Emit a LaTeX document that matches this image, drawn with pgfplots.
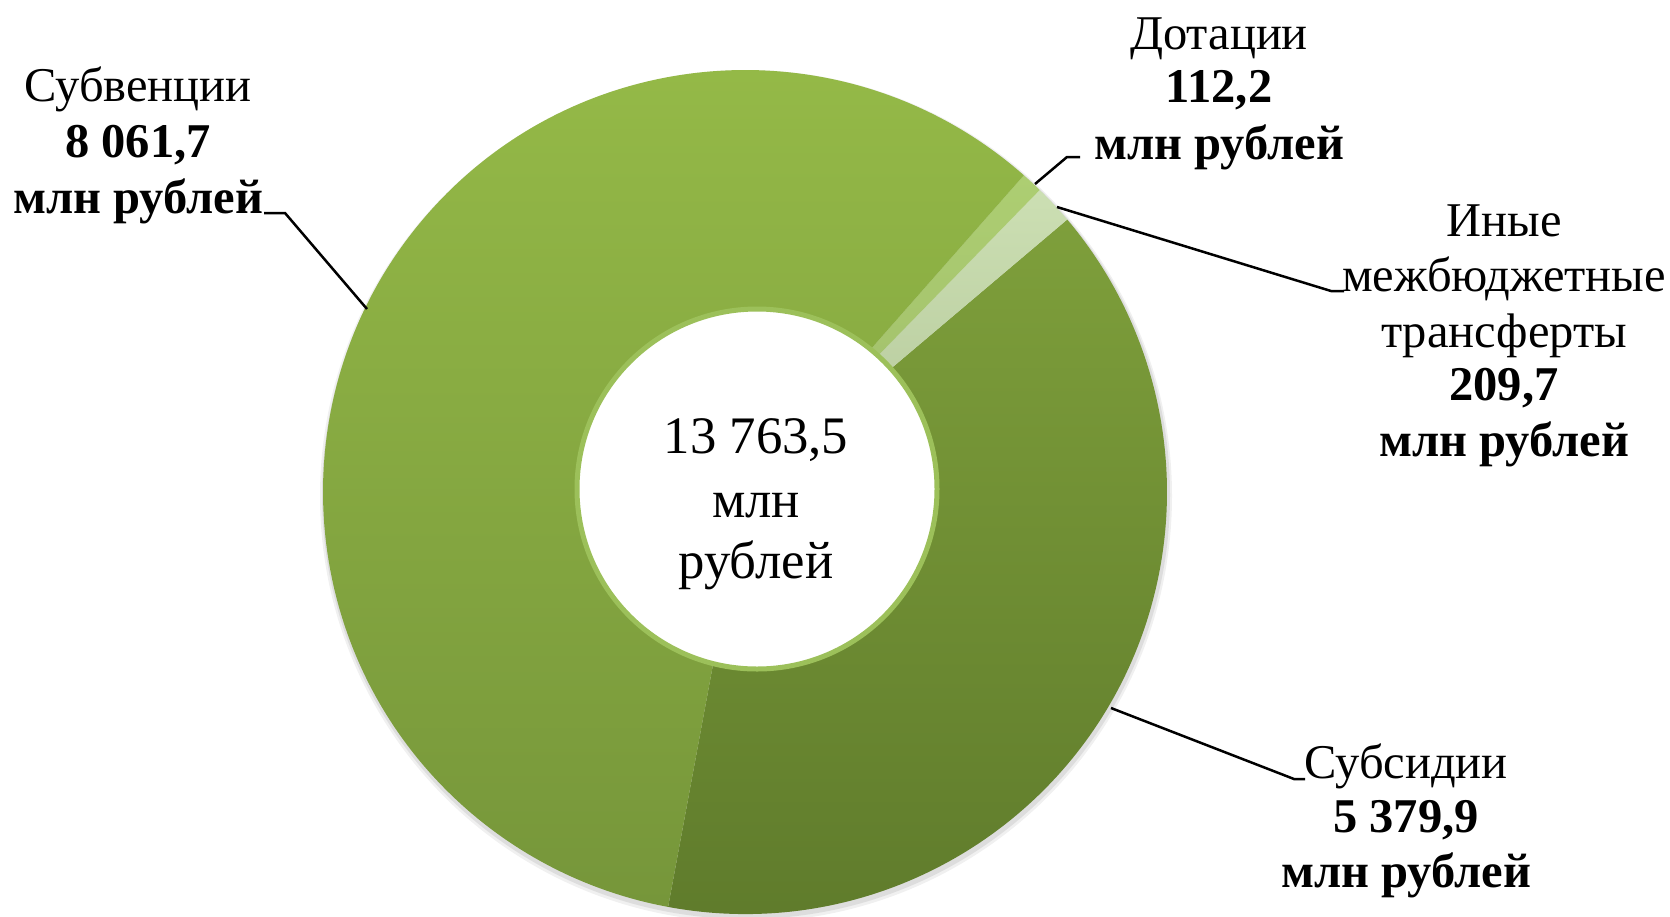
\documentclass[border=0pt]{standalone}
\usepackage{fontspec}
\setmainfont{Liberation Serif}
\usepackage{pgfplots}
\pgfplotsset{compat=1.18}
\definecolor{subvTop}{HTML}{96BB48}
\definecolor{subvBot}{HTML}{76963A}
\definecolor{subsTop}{HTML}{7E9F3B}
\definecolor{subsBot}{HTML}{5E7A2B}
\definecolor{dotTop}{HTML}{ADCE72}
\definecolor{dotBot}{HTML}{9FBC6A}
\definecolor{inyTop}{HTML}{CCDFB3}
\definecolor{inyBot}{HTML}{B3C799}
\definecolor{ring}{HTML}{9CC05A}

% values, mln rubles
\def\vSubs{5379.9}
\def\vIny{209.7}
\def\vDot{112.2}
\def\vSubv{8061.7}

\tikzset{lbl/.style={anchor=mid, inner sep=0pt, font=\fontsize{13.8pt}{16pt}\selectfont},
  lblb/.style={anchor=mid, inner sep=0pt, font=\fontsize{13.8pt}{16pt}\selectfont\bfseries},
  ctr/.style={anchor=mid, inner sep=0pt, font=\fontsize{15pt}{18pt}\selectfont}}

\begin{document}
\begin{tikzpicture}
\pgfmathsetmacro\total{\vSubs+\vIny+\vDot+\vSubv}
\pgfmathsetmacro\aA{-100.5}
\pgfmathsetmacro\aB{\aA+360*(\vSubs/\total)}
\pgfmathsetmacro\aC{\aB+360*(\vIny/\total)}
\pgfmathsetmacro\aD{\aC+360*(\vDot/\total)}
\pgfmathsetmacro\aE{\aD+360*(\vSubv/\total)}
\begin{axis}[scale only axis, x=0.1mm, y=0.1mm,
  xmin=0, xmax=1670, ymin=0, ymax=916, hide axis, clip=false]
% soft shadow
\fill[black, opacity=0.06] (axis cs:746,420) circle[radius=42.6mm];
\fill[black, opacity=0.08] (axis cs:746,421) circle[radius=42.4mm];
% slices
\shade[top color=subsTop, bottom color=subsBot] (axis cs:745,424) -- ++(\aA:42.2mm) arc[start angle=\aA, end angle=\aB, radius=42.2mm] -- cycle;
\shade[top color=inyTop, bottom color=inyBot] (axis cs:745,424) -- ++(\aB:42.2mm) arc[start angle=\aB, end angle=\aC, radius=42.2mm] -- cycle;
\shade[top color=dotTop, bottom color=dotBot] (axis cs:745,424) -- ++(\aC:42.2mm) arc[start angle=\aC, end angle=\aD, radius=42.2mm] -- cycle;
\shade[top color=subvTop, bottom color=subvBot] (axis cs:745,424) -- ++(\aD:42.2mm) arc[start angle=\aD, end angle=\aE, radius=42.2mm] -- cycle;
% hole
\fill[white, draw=ring, line width=0.5mm] (axis cs:757,427) circle[radius=18.0mm];
% leaders
\draw[black, line width=0.25mm] (axis cs:264,703) -- (axis cs:285,703) -- (axis cs:367,607);
\draw[black, line width=0.25mm] (axis cs:1035,732) -- (axis cs:1067,759) -- (axis cs:1080,759);
\draw[black, line width=0.25mm] (axis cs:1057,709) -- (axis cs:1331,625) -- (axis cs:1344,625);
\draw[black, line width=0.25mm] (axis cs:1111,208) -- (axis cs:1294,137) -- (axis cs:1305,137);
% labels
\node[lbl] at (axis cs:138,823) {Субвенции};
\node[lblb] at (axis cs:138,767) {8 061,7};
\node[lblb] at (axis cs:138,711) {млн рублей};
\node[lbl] at (axis cs:1219,875) {Дотации};
\node[lblb] at (axis cs:1219,822) {112,2};
\node[lblb] at (axis cs:1219,765) {млн рублей};
\node[lbl] at (axis cs:1504,688) {Иные};
\node[lbl] at (axis cs:1504,633) {межбюджетные};
\node[lbl] at (axis cs:1504,577) {трансферты};
\node[lblb] at (axis cs:1504,524) {209,7};
\node[lblb] at (axis cs:1504,468) {млн рублей};
\node[lbl] at (axis cs:1406,146) {Субсидии};
\node[lblb] at (axis cs:1406,92) {5 379,9};
\node[lblb] at (axis cs:1406,37) {млн рублей};
\node[ctr] at (axis cs:756,471) {13 763,5};
\node[ctr] at (axis cs:756,407) {млн};
\node[ctr] at (axis cs:756,346) {рублей};
\end{axis}
\pgfresetboundingbox
\path (current axis.south west) rectangle (current axis.north east);
\end{tikzpicture}
\end{document}
